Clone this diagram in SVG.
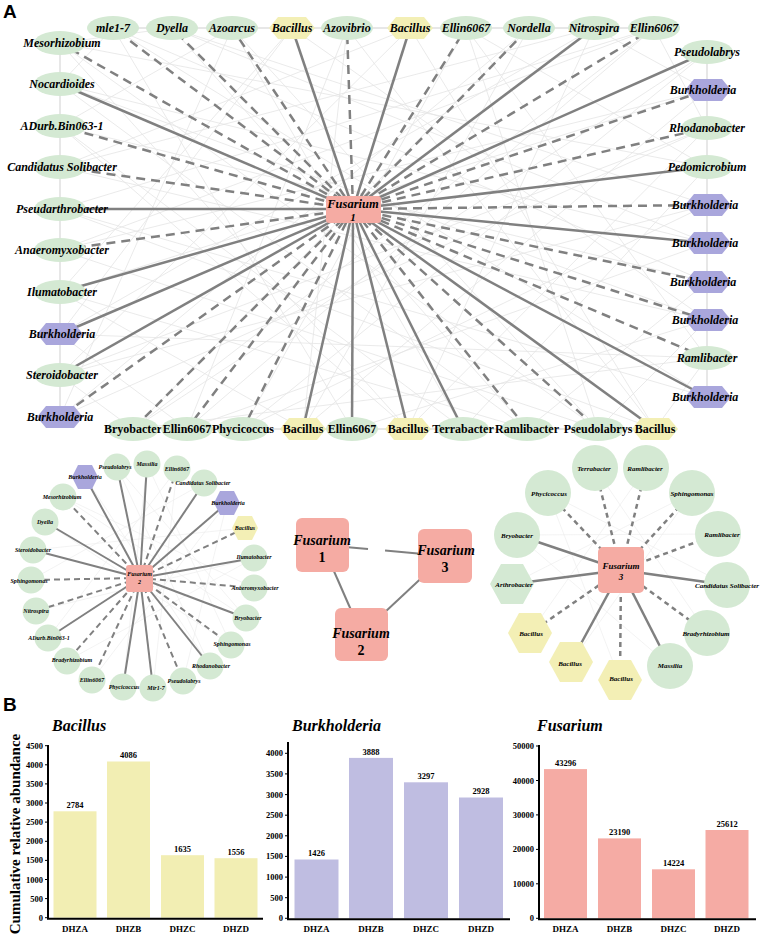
<svg xmlns="http://www.w3.org/2000/svg" xmlns:xlink="http://www.w3.org/1999/xlink" width="761" height="934" viewBox="0 0 761 934">
<defs>
<style>
text{font-family:"Liberation Serif","Times New Roman",serif;font-weight:bold;fill:#000}
.n{font-style:italic;font-size:12px;text-anchor:middle}
.nu{font-size:12px;text-anchor:middle}
.s6{font-style:italic;font-size:6px;text-anchor:middle}
.s7{font-style:italic;font-size:7px;text-anchor:middle}
.lab{font-family:"Liberation Sans",Arial,sans-serif;font-size:19px}
.g{fill:#d4e9d3}.y{fill:#f3efb5}.p{fill:#a9a6dc}.f{fill:#f5aba3}
.e{stroke:#808080;stroke-width:2.5;fill:none}
.e2{stroke:#808080;stroke-width:2;fill:none}
.d{stroke-dasharray:9 6}
.d2{stroke-dasharray:6 4}
.d3{stroke-dasharray:5 4}
.faint{stroke:#e4e4e4;stroke-width:0.8;fill:none}
.faint2{stroke:#eeeeee;stroke-width:0.7;fill:none}
.chain{stroke:#cfcfcf;stroke-width:1;fill:none}
.ax{stroke:#000;stroke-width:2;fill:none}
.tk{stroke:#000;stroke-width:1;fill:none}
.tl{font-size:8.5px;text-anchor:end}
.vl{font-size:8.5px;text-anchor:middle}
.xl{font-size:9px;text-anchor:middle}
.ti{font-style:italic;font-size:16px}
.fz{font-style:italic;text-anchor:middle}
</style>
<polygon id="hx" points="-23,0 -14,-11 14,-11 23,0 14,11 -14,11"/>
<polygon id="hs" points="-13,0 -7,-12 7,-12 13,0 7,12 -7,12"/>
<polygon id="hb" points="-22,0 -11,-20 11,-20 22,0 11,20 -11,20"/>
<ellipse id="el" rx="26" ry="12"/>
</defs>
<rect width="761" height="934" fill="#fff"/>

<text class="lab" x="3" y="18">A</text>
<text class="lab" x="3" y="711">B</text>

<g id="connectors">
<path class="faint" d="M113 28L352 429M172 28L707 243M232 28L598 429M292 28L60 334M347 28L187 429M410 28L60 167M466 28L243 429M529 28L60 417M594 28L408 429M654 28L60 250M60 43L707 167M60 84L527 429M60 126L707 282M60 167L594 28M60 209L655 429M60 250L707 90M60 292L292 28M60 334L707 358M60 375L410 28M60 417L707 128M707 52L133 429M707 90L303 429M707 128L60 375M707 167L463 429M707 205L172 28M707 243L187 429M707 282L113 28M707 320L60 84M707 358L466 28M707 397L60 209M133 429L529 28M187 429L654 28M243 429L707 52M303 429L347 28M352 429L707 320M408 429L60 126M463 429L232 28M527 429L60 292M598 429L60 43M655 429L347 28M113 28L707 397M232 28L60 417M529 28L303 429M60 167L707 320M60 250L598 429M707 205L243 429M410 28L655 429M654 28L133 429M60 375L707 205M60 84L707 243M172 28L527 429M594 28L60 334M707 90L60 292M408 429L707 128M292 28L707 320M60 43L408 429M466 28L598 429M707 358L133 429M60 209L654 28M60 126L463 429M654 28L707 128M594 28L707 90M60 43L172 28M60 84L113 28M707 358L655 429M707 320L598 429M60 375L133 429M60 334L187 429M466 28L707 167M60 126L232 28M707 282L527 429M60 292L303 429"/>
<path class="chain" d="M60 43L60 417M707 52L707 397M113 28L654 28M133 429L655 429"/>
<g class="e">
<line x1="353" y1="209" x2="113" y2="28" class="e d"/>
<line x1="353" y1="209" x2="172" y2="28" class="e d"/>
<line x1="353" y1="209" x2="232" y2="28" class="e d"/>
<line x1="353" y1="209" x2="292" y2="28"/>
<line x1="353" y1="209" x2="347" y2="28" class="e d"/>
<line x1="353" y1="209" x2="410" y2="28"/>
<line x1="353" y1="209" x2="466" y2="28" class="e d"/>
<line x1="353" y1="209" x2="529" y2="28" class="e d"/>
<line x1="353" y1="209" x2="594" y2="28"/>
<line x1="353" y1="209" x2="654" y2="28" class="e d"/>
<line x1="353" y1="209" x2="60" y2="43" class="e d"/>
<line x1="353" y1="209" x2="60" y2="84"/>
<line x1="353" y1="209" x2="60" y2="126" class="e d"/>
<line x1="353" y1="209" x2="60" y2="167" class="e d"/>
<line x1="353" y1="209" x2="60" y2="209"/>
<line x1="353" y1="209" x2="60" y2="250" class="e d"/>
<line x1="353" y1="209" x2="60" y2="292"/>
<line x1="353" y1="209" x2="60" y2="334"/>
<line x1="353" y1="209" x2="60" y2="375"/>
<line x1="353" y1="209" x2="60" y2="417" class="e d"/>
<line x1="353" y1="209" x2="707" y2="52"/>
<line x1="353" y1="209" x2="707" y2="90" class="e d"/>
<line x1="353" y1="209" x2="707" y2="128" class="e d"/>
<line x1="353" y1="209" x2="707" y2="167"/>
<line x1="353" y1="209" x2="707" y2="205" class="e d"/>
<line x1="353" y1="209" x2="707" y2="243"/>
<line x1="353" y1="209" x2="707" y2="282" class="e d"/>
<line x1="353" y1="209" x2="707" y2="320" class="e d"/>
<line x1="353" y1="209" x2="707" y2="358" class="e d"/>
<line x1="353" y1="209" x2="707" y2="397"/>
<line x1="353" y1="209" x2="133" y2="429" class="e d"/>
<line x1="353" y1="209" x2="187" y2="429" class="e d"/>
<line x1="353" y1="209" x2="243" y2="429" class="e d"/>
<line x1="353" y1="209" x2="303" y2="429"/>
<line x1="353" y1="209" x2="352" y2="429"/>
<line x1="353" y1="209" x2="408" y2="429"/>
<line x1="353" y1="209" x2="463" y2="429"/>
<line x1="353" y1="209" x2="527" y2="429" class="e d"/>
<line x1="353" y1="209" x2="598" y2="429" class="e d"/>
<line x1="353" y1="209" x2="655" y2="429"/>
</g>

<path class="faint2" d="M117 467L246 618M147 464L123 687M177 469L48 638M204 483L31 580M227 503L183 681M245 528L33 550M254 558L67 661M254 588L63 497M231 645L45 522M210 666L85 477M153 688L177 469M92 680L227 503M36 611L254 558M117 467L210 666M147 464L231 645M63 497L246 618"/>
<g class="e2">
<line x1="140" y1="578" x2="117" y2="467"/>
<line x1="140" y1="578" x2="147" y2="464"/>
<line x1="140" y1="578" x2="177" y2="469" class="e2 d2"/>
<line x1="140" y1="578" x2="204" y2="483"/>
<line x1="140" y1="578" x2="227" y2="503"/>
<line x1="140" y1="578" x2="245" y2="528" class="e2 d2"/>
<line x1="140" y1="578" x2="254" y2="558"/>
<line x1="140" y1="578" x2="254" y2="588" class="e2 d2"/>
<line x1="140" y1="578" x2="246" y2="618"/>
<line x1="140" y1="578" x2="231" y2="645" class="e2 d2"/>
<line x1="140" y1="578" x2="210" y2="666"/>
<line x1="140" y1="578" x2="183" y2="681" class="e2 d2"/>
<line x1="140" y1="578" x2="153" y2="688"/>
<line x1="140" y1="578" x2="123" y2="687"/>
<line x1="140" y1="578" x2="92" y2="680" class="e2 d2"/>
<line x1="140" y1="578" x2="67" y2="661" class="e2 d2"/>
<line x1="140" y1="578" x2="48" y2="638"/>
<line x1="140" y1="578" x2="36" y2="611" class="e2 d2"/>
<line x1="140" y1="578" x2="31" y2="580" class="e2 d2"/>
<line x1="140" y1="578" x2="33" y2="550"/>
<line x1="140" y1="578" x2="45" y2="522"/>
<line x1="140" y1="578" x2="63" y2="497" class="e2 d2"/>
<line x1="140" y1="578" x2="85" y2="477"/>
</g>

<g class="e2">
<line x1="322.5" y1="545" x2="445" y2="556" stroke-dasharray="45.7 17.1 100"/>
<line x1="322.5" y1="545" x2="361.5" y2="634"/>
<line x1="445" y1="556" x2="361.5" y2="634"/>
</g>

<path class="faint2" d="M548 493L727 585M595 468L707 633M646 468L530 633M692 493L512 584M517 535L718 534M571 662L692 493M620 680L548 493M670 666L517 535"/>
<g class="e">
<line x1="621" y1="570" x2="595" y2="468" class="e d3"/>
<line x1="621" y1="570" x2="646" y2="468" class="e d3"/>
<line x1="621" y1="570" x2="692" y2="493" class="e d3"/>
<line x1="621" y1="570" x2="718" y2="534" class="e d3"/>
<line x1="621" y1="570" x2="727" y2="585"/>
<line x1="621" y1="570" x2="707" y2="633" class="e d3"/>
<line x1="621" y1="570" x2="670" y2="666"/>
<line x1="621" y1="570" x2="620" y2="680" class="e d3"/>
<line x1="621" y1="570" x2="571" y2="662"/>
<line x1="621" y1="570" x2="530" y2="633" class="e d3"/>
<line x1="621" y1="570" x2="512" y2="584"/>
<line x1="621" y1="570" x2="517" y2="535"/>
<line x1="621" y1="570" x2="548" y2="493" class="e d3"/>
</g>
</g>

<!-- Top network nodes -->
<g id="a-top">
<g id="a-t1"><use href="#el" x="113" y="28" class="g"/><text class="n" x="113" y="32">mle1-7</text></g>
<g id="a-t2"><use href="#el" x="172" y="28" class="g"/><text class="n" x="172" y="32">Dyella</text></g>
<g id="a-t3"><use href="#el" x="232" y="28" class="g"/><text class="n" x="232" y="32">Azoarcus</text></g>
<g id="a-t4"><use href="#hx" x="292" y="28" class="y"/><text class="n" x="292" y="32">Bacillus</text></g>
<g id="a-t5"><use href="#el" x="347" y="28" class="g"/><text class="n" x="347" y="32">Azovibrio</text></g>
<g id="a-t6"><use href="#hx" x="410" y="28" class="y"/><text class="n" x="410" y="32">Bacillus</text></g>
<g id="a-t7"><use href="#el" x="466" y="28" class="g"/><text class="n" x="466" y="32">Ellin6067</text></g>
<g id="a-t8"><use href="#el" x="529" y="28" class="g"/><text class="n" x="529" y="32">Nordella</text></g>
<g id="a-t9"><use href="#el" x="594" y="28" class="g"/><text class="n" x="594" y="32">Nitrospira</text></g>
<g id="a-t10"><use href="#el" x="654" y="28" class="g"/><text class="n" x="654" y="32">Ellin6067</text></g>
</g>
<g id="a-left">
<g id="a-l1"><use href="#el" x="60" y="43" class="g"/><text class="n" x="62" y="47">Mesorhizobium</text></g>
<g id="a-l2"><use href="#el" x="60" y="84" class="g"/><text class="n" x="62" y="88">Nocardioides</text></g>
<g id="a-l3"><use href="#el" x="60" y="126" class="g"/><text class="n" x="62" y="130">ADurb.Bin063-1</text></g>
<g id="a-l4"><use href="#el" x="60" y="167" class="g"/><text class="n" x="62" y="171">Candidatus Solibacter</text></g>
<g id="a-l5"><use href="#el" x="60" y="209" class="g"/><text class="n" x="62" y="213">Pseudarthrobacter</text></g>
<g id="a-l6"><use href="#el" x="60" y="250" class="g"/><text class="n" x="62" y="254">Anaeromyxobacter</text></g>
<g id="a-l7"><use href="#el" x="60" y="292" class="g"/><text class="n" x="62" y="296">Ilumatobacter</text></g>
<g id="a-l8"><use href="#hx" x="60" y="334" class="p"/><text class="n" x="62" y="338">Burkholderia</text></g>
<g id="a-l9"><use href="#el" x="60" y="375" class="g"/><text class="n" x="62" y="379">Steroidobacter</text></g>
<g id="a-l10"><use href="#hx" x="60" y="417" class="p"/><text class="n" x="60" y="421">Burkholderia</text></g>
</g>
<g id="a-right">
<g id="a-r1"><use href="#el" x="707" y="52" class="g"/><text class="n" x="707" y="56">Pseudolabrys</text></g>
<g id="a-r2"><use href="#hx" x="708" y="90" class="p"/><text class="n" x="703" y="94">Burkholderia</text></g>
<g id="a-r3"><use href="#el" x="707" y="128" class="g"/><text class="n" x="707" y="132">Rhodanobacter</text></g>
<g id="a-r4"><use href="#el" x="707" y="167" class="g"/><text class="n" x="707" y="171">Pedomicrobium</text></g>
<g id="a-r5"><use href="#hx" x="708" y="205" class="p"/><text class="n" x="705" y="209">Burkholderia</text></g>
<g id="a-r6"><use href="#hx" x="708" y="243" class="p"/><text class="n" x="705" y="247">Burkholderia</text></g>
<g id="a-r7"><use href="#hx" x="708" y="282" class="p"/><text class="n" x="703" y="286">Burkholderia</text></g>
<g id="a-r8"><use href="#hx" x="708" y="320" class="p"/><text class="n" x="705" y="324">Burkholderia</text></g>
<g id="a-r9"><use href="#el" x="707" y="358" class="g"/><text class="n" x="707" y="362">Ramlibacter</text></g>
<g id="a-r10"><use href="#hx" x="708" y="397" class="p"/><text class="n" x="705" y="401">Burkholderia</text></g>
</g>
<g id="a-bottom">
<g id="a-b1"><use href="#el" x="133" y="429" class="g"/><text class="nu" x="133" y="433">Bryobacter</text></g>
<g id="a-b2"><use href="#el" x="187" y="429" class="g"/><text class="nu" x="187" y="433">Ellin6067</text></g>
<g id="a-b3"><use href="#el" x="243" y="429" class="g"/><text class="nu" x="243" y="433">Phycicoccus</text></g>
<g id="a-b4"><use href="#hx" x="303" y="429" class="y"/><text class="nu" x="303" y="433">Bacillus</text></g>
<g id="a-b5"><use href="#el" x="352" y="429" class="g"/><text class="nu" x="352" y="433">Ellin6067</text></g>
<g id="a-b6"><use href="#hx" x="408" y="429" class="y"/><text class="nu" x="408" y="433">Bacillus</text></g>
<g id="a-b7"><use href="#el" x="463" y="429" class="g"/><text class="nu" x="463" y="433">Terrabacter</text></g>
<g id="a-b8"><use href="#el" x="527" y="429" class="g"/><text class="nu" x="527" y="433">Ramlibacter</text></g>
<g id="a-b9"><use href="#el" x="598" y="429" class="g"/><text class="nu" x="598" y="433">Pseudolabrys</text></g>
<g id="a-b10"><use href="#hx" x="655" y="429" class="y"/><text class="nu" x="655" y="433">Bacillus</text></g>
</g>
<g id="a-fusarium1">
<rect x="326" y="196" width="55" height="27" rx="3" class="f"/>
<text class="fz" x="353" y="207.5" font-size="12.5">Fusarium</text>
<text class="fz" x="353" y="220.8" font-size="11">1</text>
</g>

<!-- Bottom-left network -->
<g id="c2-nodes">
<g id="c2-1"><circle cx="117" cy="467" r="13.5" class="g"/><text class="s6" x="115" y="469">Pseudolabrys</text></g>
<g id="c2-2"><circle cx="147" cy="464" r="13.5" class="g"/><text class="s6" x="147" y="466">Massilia</text></g>
<g id="c2-3"><circle cx="177" cy="469" r="13.5" class="g"/><text class="s6" x="177" y="471">Ellin6067</text></g>
<g id="c2-4"><circle cx="204" cy="483" r="13.5" class="g"/><text class="s6" x="203" y="485">Candidatus Solibacter</text></g>
<g id="c2-5"><use href="#hs" x="227" y="503" class="p"/><text class="s6" x="228" y="505">Burkholderia</text></g>
<g id="c2-6"><use href="#hs" x="245" y="528" class="y"/><text class="s6" x="245" y="530">Bacillus</text></g>
<g id="c2-7"><circle cx="254" cy="558" r="13.5" class="g"/><text class="s6" x="254" y="559">Ilumatobacter</text></g>
<g id="c2-8"><circle cx="254" cy="588" r="13.5" class="g"/><text class="s6" x="255" y="590">Anaeromyxobacter</text></g>
<g id="c2-9"><circle cx="246" cy="618" r="13.5" class="g"/><text class="s6" x="248" y="620">Bryobacter</text></g>
<g id="c2-10"><circle cx="231" cy="645" r="13.5" class="g"/><text class="s6" x="232" y="646">Sphingomonas</text></g>
<g id="c2-11"><circle cx="210" cy="666" r="13.5" class="g"/><text class="s6" x="211" y="668">Rhodanobacter</text></g>
<g id="c2-12"><circle cx="183" cy="681" r="13.5" class="g"/><text class="s6" x="184" y="683">Pseudolabrys</text></g>
<g id="c2-13"><circle cx="153" cy="688" r="13.5" class="g"/><text class="s6" x="156" y="690">Mir1-7</text></g>
<g id="c2-14"><circle cx="123" cy="687" r="13.5" class="g"/><text class="s6" x="124" y="689">Phycicoccus</text></g>
<g id="c2-15"><circle cx="92" cy="680" r="13.5" class="g"/><text class="s6" x="92" y="682">Ellin6067</text></g>
<g id="c2-16"><circle cx="67" cy="661" r="13.5" class="g"/><text class="s6" x="72" y="662">Bradyrhizobium</text></g>
<g id="c2-17"><circle cx="48" cy="638" r="13.5" class="g"/><text class="s6" x="49" y="640">ADurb.Bin063-1</text></g>
<g id="c2-18"><circle cx="36" cy="611" r="13.5" class="g"/><text class="s6" x="36" y="613">Nitrospira</text></g>
<g id="c2-19"><circle cx="31" cy="580" r="13.5" class="g"/><text class="s6" x="29" y="583">Sphingomonas</text></g>
<g id="c2-20"><circle cx="33" cy="550" r="13.5" class="g"/><text class="s6" x="33" y="552">Steroidobacter</text></g>
<g id="c2-21"><circle cx="45" cy="522" r="13.5" class="g"/><text class="s6" x="45" y="524">Dyella</text></g>
<g id="c2-22"><circle cx="63" cy="497" r="13.5" class="g"/><text class="s6" x="62" y="499">Mesorhizobium</text></g>
<g id="c2-23"><use href="#hs" x="85" y="477" class="p"/><text class="s6" x="85" y="479">Burkholderia</text></g>
</g>
<g id="c2-fusarium2">
<rect x="126" y="565" width="27" height="27" rx="3" class="f"/>
<text class="fz" x="139.5" y="576" font-size="6">Fusarium</text>
<text class="fz" x="139.5" y="584" font-size="6">2</text>
</g>

<!-- Middle triangle -->
<g id="m-fusarium1">
<rect x="296" y="518" width="53" height="54" rx="6" class="f"/>
<text class="fz" x="322" y="545" font-size="14">Fusarium</text>
<text x="322" y="562" font-size="14" text-anchor="middle">1</text>
</g>
<g id="m-fusarium3">
<rect x="418" y="529" width="54" height="54" rx="6" class="f"/>
<text class="fz" x="446" y="555" font-size="14">Fusarium</text>
<text x="445" y="572" font-size="14" text-anchor="middle">3</text>
</g>
<g id="m-fusarium2">
<rect x="335" y="608" width="53" height="53" rx="6" class="f"/>
<text class="fz" x="361" y="638" font-size="14">Fusarium</text>
<text x="361" y="655" font-size="14" text-anchor="middle">2</text>
</g>

<!-- Bottom-right network -->
<g id="c3-nodes">
<g id="c3-1"><circle cx="595" cy="468" r="23" class="g"/><text class="s7" x="594" y="471">Terrabacter</text></g>
<g id="c3-2"><circle cx="646" cy="468" r="23" class="g"/><text class="s7" x="645" y="471">Ramlibacter</text></g>
<g id="c3-3"><circle cx="692" cy="493" r="23" class="g"/><text class="s7" x="692" y="496">Sphingomonas</text></g>
<g id="c3-4"><circle cx="718" cy="534" r="23" class="g"/><text class="s7" x="722" y="537">Ramlibacter</text></g>
<g id="c3-5"><circle cx="727" cy="585" r="23" class="g"/><text class="s7" x="727" y="588">Candidatus Solibacter</text></g>
<g id="c3-6"><circle cx="707" cy="633" r="23" class="g"/><text class="s7" x="706" y="636">Bradyrhizobium</text></g>
<g id="c3-7"><circle cx="670" cy="666" r="23" class="g"/><text class="s7" x="670" y="668">Massilia</text></g>
<g id="c3-8"><use href="#hb" x="620" y="680" class="y"/><text class="s7" x="621" y="681">Bacillus</text></g>
<g id="c3-9"><use href="#hb" x="571" y="662" class="y"/><text class="s7" x="570" y="666">Bacillus</text></g>
<g id="c3-10"><use href="#hb" x="530" y="633" class="y"/><text class="s7" x="531" y="636">Bacillus</text></g>
<g id="c3-11"><use href="#hb" x="512" y="584" class="g"/><text class="s7" x="514" y="587">Arthrobacter</text></g>
<g id="c3-12"><circle cx="517" cy="535" r="23" class="g"/><text class="s7" x="517" y="538">Bryobacter</text></g>
<g id="c3-13"><circle cx="548" cy="493" r="23" class="g"/><text class="s7" x="549" y="496">Phycicoccus</text></g>
</g>
<g id="c3-fusarium3">
<rect x="598" y="547" width="46" height="46" rx="5" class="f"/>
<text class="fz" x="621" y="568.5" font-size="9">Fusarium</text>
<text class="fz" x="621" y="580" font-size="9">3</text>
</g>

<!-- Panel B -->
<text x="20" y="834" font-size="15" font-weight="normal" text-anchor="middle" transform="rotate(-90 20 834)">Cumulative relative abundance</text>

<g id="chart-bacillus">
<text class="ti" x="52" y="731">Bacillus</text>
<g fill="#f2eeb3">
<rect x="53.5" y="811.3" width="43" height="106.4"/>
<rect x="107" y="761.5" width="43" height="156.2"/>
<rect x="161" y="855.2" width="43" height="62.5"/>
<rect x="214.5" y="858.2" width="43" height="59.5"/>
</g>
<path class="tk" d="M45 917.7H48M45 898.6H48M45 879.5H48M45 860.4H48M45 841.3H48M45 822.1H48M45 803H48M45 783.9H48M45 764.8H48M45 745.7H48"/>
<path class="ax" d="M48 745V918.7H263"/>
<text class="tl" x="43" y="920.7">0</text>
<text class="tl" x="43" y="901.6">500</text>
<text class="tl" x="43" y="882.5">1000</text>
<text class="tl" x="43" y="863.4">1500</text>
<text class="tl" x="43" y="844.3">2000</text>
<text class="tl" x="43" y="825.1">2500</text>
<text class="tl" x="43" y="806">3000</text>
<text class="tl" x="43" y="786.9">3500</text>
<text class="tl" x="43" y="767.8">4000</text>
<text class="tl" x="43" y="748.7">4500</text>
<text class="vl" x="75" y="808">2784</text>
<text class="vl" x="128.5" y="758">4086</text>
<text class="vl" x="182.5" y="852">1635</text>
<text class="vl" x="236" y="855">1556</text>
<text class="xl" x="75" y="932">DHZA</text>
<text class="xl" x="128.5" y="932">DHZB</text>
<text class="xl" x="182.5" y="932">DHZC</text>
<text class="xl" x="236" y="932">DHZD</text>
</g>

<g id="chart-burkholderia">
<text class="ti" x="292" y="731">Burkholderia</text>
<g fill="#bfbde1">
<rect x="294.5" y="859.5" width="44" height="58.8"/>
<rect x="349" y="757.9" width="44" height="160.4"/>
<rect x="404" y="782.3" width="44" height="136"/>
<rect x="459" y="797.5" width="44" height="120.8"/>
</g>
<path class="tk" d="M285 918.3H288M285 897.7H288M285 877.1H288M285 856.4H288M285 835.8H288M285 815.2H288M285 794.6H288M285 773.9H288M285 753.3H288"/>
<path class="ax" d="M288 742V919.3H510"/>
<text class="tl" x="283" y="921.3">0</text>
<text class="tl" x="283" y="900.7">500</text>
<text class="tl" x="283" y="880.1">1000</text>
<text class="tl" x="283" y="859.4">1500</text>
<text class="tl" x="283" y="838.8">2000</text>
<text class="tl" x="283" y="818.2">2500</text>
<text class="tl" x="283" y="797.6">3000</text>
<text class="tl" x="283" y="776.9">3500</text>
<text class="tl" x="283" y="756.3">4000</text>
<text class="vl" x="316.5" y="856">1426</text>
<text class="vl" x="371" y="755">3888</text>
<text class="vl" x="426" y="779">3297</text>
<text class="vl" x="481" y="794">2928</text>
<text class="xl" x="316.5" y="932">DHZA</text>
<text class="xl" x="371" y="932">DHZB</text>
<text class="xl" x="426" y="932">DHZC</text>
<text class="xl" x="481" y="932">DHZD</text>
</g>

<g id="chart-fusarium">
<text class="ti" x="537" y="731">Fusarium</text>
<g fill="#f5aba4">
<rect x="544" y="769.1" width="43" height="149.2"/>
<rect x="598" y="838.4" width="43" height="79.9"/>
<rect x="652" y="869.3" width="43" height="49"/>
<rect x="705.5" y="830" width="43" height="88.3"/>
</g>
<path class="tk" d="M536 918.3H539M536 883.8H539M536 849.4H539M536 814.9H539M536 780.5H539M536 746H539"/>
<path class="ax" d="M539 745V919.3H756"/>
<text class="tl" x="534" y="921.3">0</text>
<text class="tl" x="534" y="886.8">10000</text>
<text class="tl" x="534" y="852.4">20000</text>
<text class="tl" x="534" y="817.9">30000</text>
<text class="tl" x="534" y="783.5">40000</text>
<text class="tl" x="534" y="749">50000</text>
<text class="vl" x="565.5" y="766">43296</text>
<text class="vl" x="619.5" y="835">23190</text>
<text class="vl" x="673.5" y="866">14224</text>
<text class="vl" x="727" y="827">25612</text>
<text class="xl" x="565.5" y="932">DHZA</text>
<text class="xl" x="619.5" y="932">DHZB</text>
<text class="xl" x="673.5" y="932">DHZC</text>
<text class="xl" x="727" y="932">DHZD</text>
</g>
</svg>
